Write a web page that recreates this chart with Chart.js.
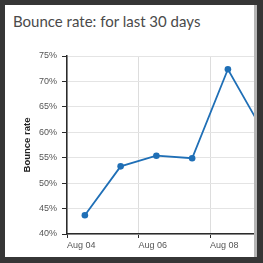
<!DOCTYPE html>
<html>
<head>
<meta charset="utf-8">
<script src="https://cdn.jsdelivr.net/npm/chart.js@4"></script>
<style>
  html, body { margin: 0; padding: 0; background: #363636; }
  #card {
    position: absolute; left: 5px; top: 5px; width: 252px; height: 252px;
    background: #ffffff; overflow: hidden;
  }
  #titulo {
    position: absolute; left: 8px; top: 7px; margin: 0;
    font: 15px Lato, sans-serif; color: #4a4a4a; white-space: nowrap;
  }
  #edge { position: absolute; right: 0; top: 0; width: 3px; height: 100%; background: #b5b5b5; }
  canvas { position: absolute; left: 0; top: 0; }
</style>
</head>
<body>
<div id="card">
  <div id="titulo">Bounce rate: for last 30 days</div>
  <canvas id="graficoLinha" width="253" height="252"></canvas>
  <div id="edge"></div>
</div>
<script>
// dias de agosto (meio-dia de cada dia) e taxa de rejeição em %
const dias = [4.5, 5.5, 6.5, 7.5, 8.5, 9.5];
const taxaRejeicao = [43.7, 53.3, 55.4, 54.9, 72.4, 60.0];
const diasTicks = [4, 6, 8];
const rotulosTicks = ['Aug 04', 'Aug 06', 'Aug 08'];
const yTicks = [40, 45, 50, 55, 60, 65, 70, 75];

const ctx = document.getElementById('graficoLinha').getContext('2d');
const azul = '#1f6fb6';

new Chart(ctx, {
    type: 'line',
    data: {
        datasets: [{
            label: 'Bounce rate',
            data: dias.map((d, i) => ({ x: d, y: taxaRejeicao[i] })),
            borderColor: azul,
            backgroundColor: azul,
            borderWidth: 1.8,
            pointRadius: 3.3,
            pointBorderWidth: 0,
            tension: 0
        }]
    },
    options: {
        responsive: false,
        animation: false,
        layout: { padding: { left: 0, right: 0, top: 51, bottom: 0 } },
        plugins: {
            legend: { display: false },
            tooltip: { enabled: false }
        },
        scales: {
            x: {
                type: 'linear',
                min: 4,
                max: 9.23, // o gráfico continua além da borda do cartão
                afterBuildTicks: axis => { axis.ticks = diasTicks.map(v => ({ value: v })); },
                afterFit: axis => { axis.height = 23; },
                border: { color: '#2b2b2b', width: 1.5 },
                grid: { color: '#dddddd', tickColor: '#2b2b2b', tickLength: 4, lineWidth: 1 },
                ticks: {
                    align: 'start', padding: 2, maxRotation: 0, color: '#555555',
                    font: { family: 'Liberation Sans', size: 9 },
                    callback: v => rotulosTicks[diasTicks.indexOf(v)] ?? ''
                }
            },
            y: {
                min: 40,
                max: 75,
                afterBuildTicks: axis => { axis.ticks = yTicks.map(v => ({ value: v })); },
                afterFit: axis => { axis.width = 62; },
                border: { color: '#2b2b2b', width: 1.5 },
                grid: { color: '#e4e4e4', tickColor: '#2b2b2b', tickLength: 5, lineWidth: 1 },
                title: {
                    display: true, text: 'Bounce rate', color: '#222222',
                    font: { family: 'Liberation Sans', size: 9.5, weight: 'bold' },
                    padding: { top: 17, bottom: 0 }
                },
                ticks: {
                    padding: 5, color: '#555555',
                    font: { family: 'Liberation Sans', size: 9 },
                    callback: v => v + '%'
                }
            }
        }
    }
});
</script>
</body>
</html>
